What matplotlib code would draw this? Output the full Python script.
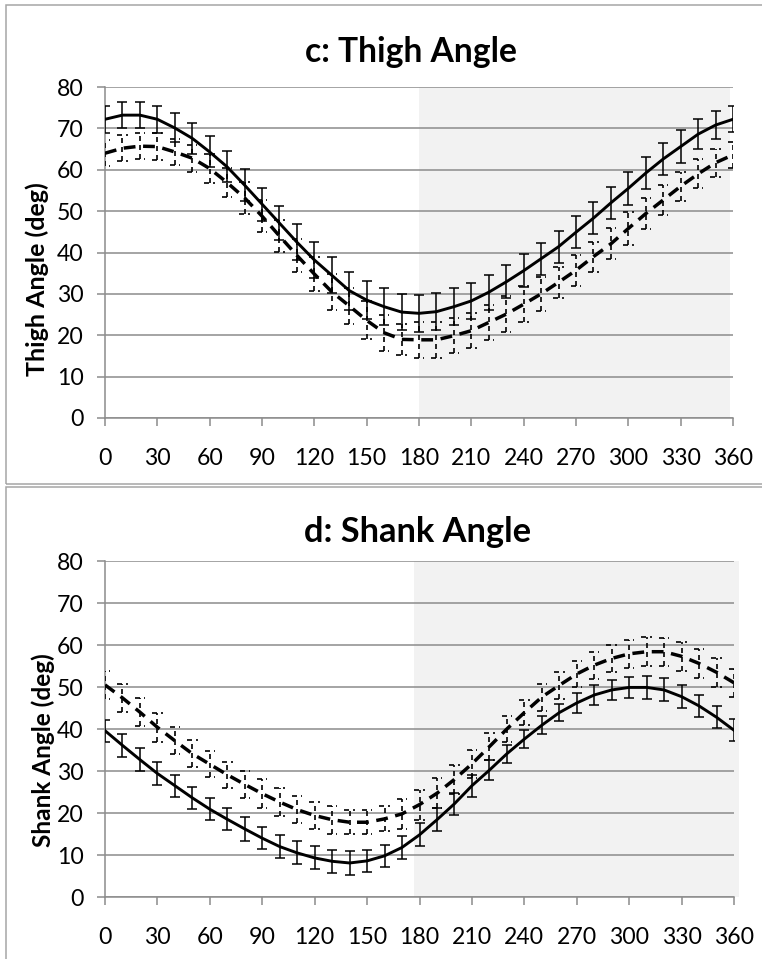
import numpy as np
import matplotlib
matplotlib.use("Agg")
import matplotlib.pyplot as plt
from matplotlib.patches import Rectangle

plt.rcParams['font.family'] = ['Lato', 'DejaVu Sans']

# gait cycle angle (deg), one point every 10 deg
angle = list(range(0, 361, 10))

# c: thigh angle
thigh_solid = [72.2, 73.2, 73.2, 72.2, 70.1, 67.6, 64.3, 60.7, 56.3, 51.7, 47.1, 42.5,
               38.2, 34.5, 30.8, 28.5, 26.9, 25.6, 25.3, 25.7, 26.9, 28.3, 30.4, 32.9,
               35.6, 38.5, 41.4, 44.9, 48.3, 52.0, 55.5, 59.2, 62.6, 65.6, 68.6, 70.8, 72.2]
thigh_solid_sd = [3.2, 3.2, 3.2, 3.2, 3.5, 3.7, 3.75, 3.75, 3.9, 4.0, 4.1, 4.3,
                  4.4, 4.4, 4.6, 4.5, 4.4, 4.4, 4.4, 4.4, 4.4, 4.3, 4.2, 4.0,
                  4.0, 3.9, 3.9, 3.9, 3.9, 3.9, 4.0, 3.9, 3.9, 3.9, 3.6, 3.4, 3.1]
thigh_dash = [64.0, 65.2, 65.7, 65.6, 64.3, 62.8, 60.3, 56.9, 53.2, 48.8, 44.0, 39.3,
              34.8, 30.5, 27.1, 23.6, 20.6, 19.0, 18.9, 18.9, 19.9, 21.1, 23.1, 25.1,
              27.5, 30.0, 32.8, 35.7, 39.0, 42.1, 45.8, 49.4, 52.7, 56.0, 59.0, 61.7, 63.6]
thigh_dash_sd = [3.1, 3.2, 3.2, 3.2, 3.1, 3.3, 3.5, 3.6, 3.8, 3.8, 3.8, 3.9,
                 4.0, 4.4, 4.4, 4.6, 4.4, 3.75, 4.4, 4.4, 4.2, 4.2, 4.2, 4.3,
                 4.4, 4.1, 3.7, 3.8, 3.6, 3.75, 3.9, 3.75, 3.6, 3.5, 3.5, 3.35, 3.2]

# d: shank angle
shank_solid = [39.6, 36.1, 32.7, 29.4, 26.5, 23.6, 20.9, 18.5, 16.2, 14.0, 12.0, 10.5,
               9.3, 8.5, 8.1, 8.6, 9.8, 11.8, 14.8, 18.4, 22.2, 26.5, 30.2, 34.1,
               37.6, 40.9, 43.9, 46.2, 48.1, 49.3, 49.9, 49.9, 49.3, 47.7, 45.5, 42.8, 39.7]
shank_solid_sd = [2.65, 2.7, 2.7, 2.65, 2.65, 2.7, 2.65, 2.65, 2.75, 2.6, 2.75, 2.75,
                  2.75, 2.75, 2.75, 2.7, 2.65, 2.75, 2.75, 2.75, 2.6, 2.6, 2.4, 2.2,
                  2.2, 2.15, 2.1, 2.45, 2.4, 2.4, 2.6, 2.65, 2.75, 2.75, 2.65, 2.6, 2.65]
shank_dash = [50.5, 47.4, 44.0, 40.4, 37.2, 34.1, 31.6, 29.1, 26.8, 24.6, 22.6, 20.8,
              19.4, 18.4, 17.8, 17.8, 18.6, 19.8, 22.0, 24.7, 28.0, 31.7, 35.8, 40.0,
              43.9, 47.6, 50.4, 53.1, 55.2, 56.8, 57.9, 58.4, 58.4, 57.3, 55.6, 53.5, 51.0]
shank_dash_sd = [3.4, 3.25, 3.3, 3.4, 3.2, 3.2, 3.05, 3.05, 3.2, 3.4, 3.4, 3.25,
                 3.2, 3.3, 2.8, 2.8, 3.0, 3.55, 3.55, 3.55, 3.4, 3.25, 3.2, 3.1,
                 3.05, 3.2, 3.2, 3.05, 3.2, 3.2, 3.3, 3.4, 3.3, 3.4, 3.55, 3.4, 3.4]

x_ticks = list(range(0, 361, 30))
y_ticks = list(range(0, 81, 10))

W, H = 762, 959
fig = plt.figure(figsize=(W / 100, H / 100), dpi=100)
renderer = fig.canvas.get_renderer()

# panel frames (Excel chart borders)
frame_col = '#a6a6a6'
fig.add_artist(Rectangle((6 / W, 1 - 483.5 / H), 1.2, 478 / H, transform=fig.transFigure,
                         fill=False, ec=frame_col, lw=1.1))
fig.add_artist(Rectangle((6 / W, -0.2), 1.2, 0.2 + 1 - 486.5 / H, transform=fig.transFigure,
                         fill=False, ec=frame_col, lw=1.1))

grey = '#8c8c8c'


def fit_width(txt, target_px, along_y=False):
    # scale the font so the text spans about target_px pixels
    bb = txt.get_window_extent(renderer)
    span = bb.height if along_y else bb.width
    txt.set_fontsize(txt.get_fontsize() * target_px / span)


# tick label size: "360" is about 38 px wide in the reference
probe = fig.text(0, 0, '360', fontsize=16)
fit_width(probe, 40)
tick_size = probe.get_fontsize()
probe.remove()


def draw_panel(rect, solid, solid_sd, dash, dash_sd, shade, title, title_xy, ylab, ylab_xy):
    ax = fig.add_axes(rect)
    ax.set_xlim(0, 360)
    ax.set_ylim(0, 80)
    ax.axvspan(shade[0], shade[1], color='#f2f2f2', zorder=0, lw=0, clip_on=False)
    ax.set_axisbelow(True)
    ax.yaxis.grid(True, color=grey, lw=1.1)
    for s in ['top', 'right']:
        ax.spines[s].set_visible(False)
    for s in ['left', 'bottom']:
        ax.spines[s].set_color(grey)
        ax.spines[s].set_linewidth(1.1)
    ax.set_xticks(x_ticks)
    ax.set_yticks(y_ticks)
    ax.tick_params(axis='both', colors=grey, labelcolor='black', labelsize=tick_size,
                   width=1.1, direction='out')
    ax.tick_params(axis='x', length=5.5, pad=16)
    ax.tick_params(axis='y', length=5.5, pad=10)

    # solid series with plain error bars
    ax.errorbar(angle, solid, yerr=solid_sd, color='black', lw=2.1, elinewidth=1.1,
                capsize=3.6, capthick=1.1, zorder=4)

    # dashed series with dashed error bars and dashed caps
    ax.plot(angle, dash, color='black', lw=2.5, linestyle=(0, (3.4, 2.2)), zorder=3)
    eb = ax.errorbar(angle, dash, yerr=dash_sd, fmt='none', ecolor='black',
                     elinewidth=1.2, zorder=3)
    eb[2][0].set_linestyle((0, (3, 2.4)))
    lo = np.array(dash) - np.array(dash_sd)
    hi = np.array(dash) + np.array(dash_sd)
    xs = np.array(angle)
    for yy in (lo, hi):
        caps = ax.hlines(yy, xs - 3, xs + 3, color='black', lw=1.2, zorder=3)
        caps.set_linestyle((0, (3, 2.4)))

    t = fig.text(title_xy[0] / W, 1 - title_xy[1] / H, title, ha='center', va='center',
                 fontsize=18, fontweight='bold')
    fit_width(t, title_xy[2])
    yl = fig.text(ylab_xy[0] / W, 1 - ylab_xy[1] / H, ylab, ha='center', va='center',
                  rotation=90, fontsize=14, fontweight='bold')
    fit_width(yl, ylab_xy[2], along_y=True)
    return ax


draw_panel([105 / W, 1 - 418 / H, 628 / W, 331 / H],
           thigh_solid, thigh_solid_sd, thigh_dash, thigh_dash_sd,
           (180, 358), 'c: Thigh Angle', (411, 52, 213), 'Thigh Angle (deg)', (37, 279, 195))

draw_panel([105 / W, 1 - 897 / H, 629 / W, 336 / H],
           shank_solid, shank_solid_sd, shank_dash, shank_dash_sd,
           (177, 363), 'd: Shank Angle', (418, 532, 227), 'Shank Angle (deg)', (43, 750, 196))

fig.savefig('out.png', dpi=100)
